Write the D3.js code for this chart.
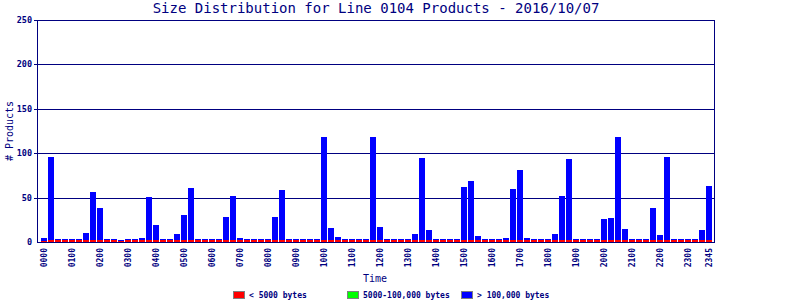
<!DOCTYPE html>
<html>
<head>
<meta charset="utf-8">
<script src="https://cdn.jsdelivr.net/npm/d3@7"></script>
<style>
  body { margin: 0; background: #fff; }
  svg { display: block; font-family: "DejaVu Sans Mono", monospace; }
</style>
</head>
<body>
<svg id="chart" width="800" height="300"></svg>
<script>
// 15 minute slots, 0000 .. 2345
const slots = [];
for (let h = 0; h < 24; h++) {
  for (const m of ['00', '15', '30', '45']) slots.push(String(h).padStart(2, '0') + m);
}
const tickLabels = ['0000','0100','0200','0300','0400','0500','0600','0700','0800','0900','1000','1100',
  '1200','1300','1400','1500','1600','1700','1800','1900','2000','2100','2200','2300','2345'];
const yTicks = [0, 50, 100, 150, 200, 250];

// < 5000 bytes
const smallCounts = [1,2,2,2,2,2,2,2,2,2,2,1,2,2,2,2,2,2,2,2,2,2,2,2,
  2,2,2,2,2,2,2,2,2,2,2,2,2,2,2,2,2,2,2,2,2,2,2,2,
  2,2,2,2,2,2,2,2,2,2,2,2,2,2,2,2,2,2,2,2,2,2,2,2,
  2,2,2,2,2,2,2,2,2,2,2,2,2,2,2,2,2,2,2,2,2,2,2,2];
// 5000-100,000 bytes
const mediumCounts = new Array(96).fill(0);
// > 100,000 bytes
const largeCounts = [3,94,1,1,1,1,8,54,36,1,1,1,1,1,3,49,17,1,1,7,28,59,1,1,
  1,1,26,50,3,1,1,1,1,26,57,1,1,1,1,1,116,14,4,1,1,1,1,116,15,1,1,1,
  1,7,93,12,1,1,1,1,60,67,5,1,1,1,3,58,79,2,1,1,1,7,50,91,1,1,1,1,
  24,25,116,13,1,1,1,36,6,94,1,1,1,1,12,61];

const legendItems = [
  { label: '< 5000 bytes', color: '#ff0000', x: 233 },
  { label: '5000-100,000 bytes', color: '#00ff00', x: 347 },
  { label: '> 100,000 bytes', color: '#0000ff', x: 461 }
];

const navy = '#000080';
const margin = { top: 20, right: 85, bottom: 58, left: 37 };
const width = 800, height = 300;

const svg = d3.select('#chart');

const table = slots.map((s, i) => ({
  slot: s, small: smallCounts[i], medium: mediumCounts[i], large: largeCounts[i]
}));
const series = d3.stack().keys(['small', 'medium', 'large'])(table);
const colors = { small: '#ff0000', medium: '#00ff00', large: '#0000ff' };

const x = d3.scaleBand()
  .domain(slots)
  .range([41, 712])
  .paddingInner(1 / 7)
  .paddingOuter(0);

const y = d3.scaleLinear()
  .domain([0, 250])
  .range([height - margin.bottom, margin.top]);

// grid lines
svg.append('g')
  .selectAll('line')
  .data(yTicks.filter(d => d > 0))
  .join('line')
  .attr('x1', margin.left - 3)
  .attr('x2', width - margin.right)
  .attr('y1', d => Math.round(y(d)) + 0.5)
  .attr('y2', d => Math.round(y(d)) + 0.5)
  .attr('stroke', navy)
  .attr('stroke-width', 1);

// bars
svg.append('g')
  .selectAll('g')
  .data(series)
  .join('g')
  .attr('fill', d => colors[d.key])
  .selectAll('rect')
  .data(d => d)
  .join('rect')
  .attr('x', d => x(d.data.slot))
  .attr('width', x.bandwidth())
  .attr('y', d => y(d[1]))
  .attr('height', d => y(d[0]) - y(d[1]))
  .attr('shape-rendering', 'crispEdges');

// plot frame
svg.append('rect')
  .attr('x', margin.left + 0.5)
  .attr('y', margin.top + 0.5)
  .attr('width', width - margin.right - margin.left - 1)
  .attr('height', height - margin.bottom - margin.top)
  .attr('fill', 'none')
  .attr('stroke', navy)
  .attr('stroke-width', 1);

// y axis labels
svg.append('g')
  .selectAll('text')
  .data(yTicks)
  .join('text')
  .attr('x', margin.left - 5)
  .attr('y', d => y(d))
  .attr('dy', '0.35em')
  .attr('text-anchor', 'end')
  .attr('fill', navy)
  .style('font-size', '8.5px')
  .style('font-weight', 'bold')
  .text(d => d);

// x axis labels
svg.append('g')
  .selectAll('text')
  .data(tickLabels)
  .join('text')
  .attr('transform', d => `translate(${x(d) + x.bandwidth() / 2},${height - margin.bottom + 6}) rotate(-90)`)
  .attr('dy', '0.35em')
  .attr('text-anchor', 'end')
  .attr('fill', navy)
  .style('font-size', '8px')
  .style('font-weight', 'bold')
  .text(d => d);

// title
svg.append('text')
  .attr('x', (margin.left + width - margin.right) / 2)
  .attr('y', 13)
  .attr('text-anchor', 'middle')
  .attr('fill', navy)
  .style('font-size', '14px')
  .text('Size Distribution for Line 0104 Products - 2016/10/07');

// axis titles
svg.append('text')
  .attr('transform', `translate(9,131) rotate(-90)`)
  .attr('dy', '0.35em')
  .attr('text-anchor', 'middle')
  .attr('fill', navy)
  .style('font-size', '10px')
  .text('# Products');

svg.append('text')
  .attr('x', 375)
  .attr('y', 278)
  .attr('dy', '0.35em')
  .attr('text-anchor', 'middle')
  .attr('fill', navy)
  .style('font-size', '10px')
  .text('Time');

// legend
const legend = svg.append('g')
  .selectAll('g')
  .data(legendItems)
  .join('g')
  .attr('transform', d => `translate(${d.x},291)`);

legend.append('rect')
  .attr('x', 0.5)
  .attr('y', 0.5)
  .attr('width', 11)
  .attr('height', 7)
  .attr('fill', d => d.color)
  .attr('stroke', '#808080');

legend.append('text')
  .attr('x', 16)
  .attr('y', 4)
  .attr('dy', '0.35em')
  .attr('fill', navy)
  .style('font-size', '8px')
  .style('font-weight', 'bold')
  .text(d => d.label);
</script>
</body>
</html>
